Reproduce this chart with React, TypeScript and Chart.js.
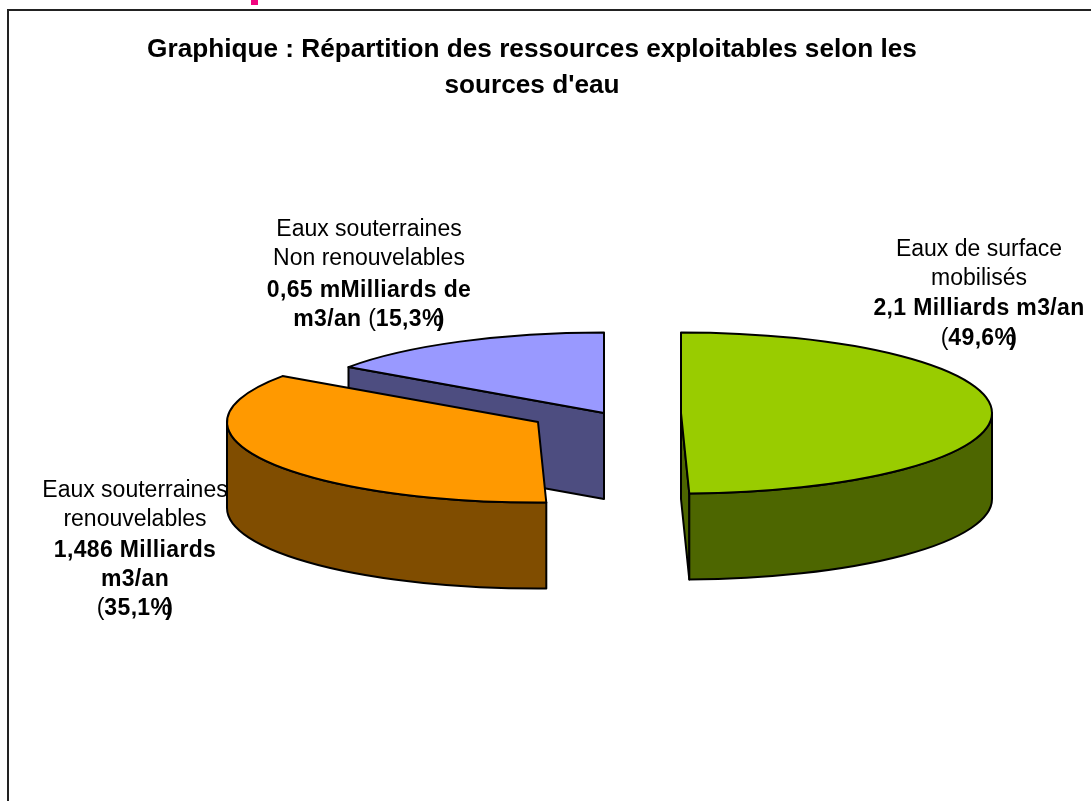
import React, { useEffect, useRef } from "react";
import { Chart, registerables } from "chart.js";

Chart.register(...registerables);

// ---- data ----
const categories = ["Eaux de surface mobilisés", "Eaux souterraines renouvelables", "Eaux souterraines Non renouvelables"];
const values = [2.1, 1.486, 0.65];
const titleLines = ["Graphique : Répartition des ressources exploitables selon les", "sources d'eau"];

type Run = { t: string; b: boolean; k?: number };
const labelSurface: Run[][] = [
  [{ t: "Eaux de surface", b: false }],
  [{ t: "mobilisés", b: false }],
  [{ t: "2,1 Milliards m3/an", b: true }],
  [{ t: "(", b: false }, { t: "49,6%", b: true }, { t: ")", b: true, k: -6 }],
];
const labelRenouv: Run[][] = [
  [{ t: "Eaux souterraines", b: false }],
  [{ t: "renouvelables", b: false }],
  [{ t: "1,486 Milliards", b: true }],
  [{ t: "m3/an", b: true }],
  [{ t: "(", b: false }, { t: "35,1%", b: true }, { t: ")", b: true, k: -6 }],
];
const labelNonRenouv: Run[][] = [
  [{ t: "Eaux souterraines", b: false }],
  [{ t: "Non renouvelables", b: false }],
  [{ t: "0,65 mMilliards de", b: true }],
  [{ t: "m3/an ", b: true }, { t: "(", b: false }, { t: "15,3%", b: true }, { t: ")", b: true, k: -6 }],
];

// ---- style ----
const topColors = ["#99CC00", "#FF9900", "#9999FF"];
const wallColors = ["#4D6600", "#804D00", "#4D4D80"];
const FONT = "'Liberation Sans', Arial, sans-serif";
const LABEL_PX = 23;
const BOLD_SPACING = "0.35px";
const RADIUS = 311;
const TILT = 0.259;
const DEPTH = 86;
const anchor = { x: 604, y: 413 };
const explode = [
  { x: 77, y: 0 },
  { x: -66, y: 9 },
  { x: 0, y: 0 },
];
const paintOrder = [2, 1, 0];
const labelPlace = [
  { x: 979, ys: [256, 285, 315, 345] },
  { x: 135, ys: [497, 526, 557, 586, 615] },
  { x: 369, ys: [236, 265, 297, 326] },
];
const labelRuns = [labelSurface, labelRenouv, labelNonRenouv];

function setRunFont(ctx: any, r: Run) {
  ctx.font = `${r.b ? "bold " : ""}${LABEL_PX}px ${FONT}`;
  ctx.letterSpacing = r.b ? BOLD_SPACING : "0px";
}

function drawLabel(ctx: CanvasRenderingContext2D, lines: Run[][], cx: number, ys: number[]) {
  ctx.textAlign = "left";
  ctx.textBaseline = "alphabetic";
  ctx.fillStyle = "#000";
  lines.forEach((runs, i) => {
    let total = 0;
    const widths = runs.map((r) => {
      setRunFont(ctx, r);
      const w = ctx.measureText(r.t).width + (r.k || 0);
      total += w;
      return w;
    });
    let x = cx - total / 2;
    runs.forEach((r, k) => {
      setRunFont(ctx, r);
      ctx.fillText(r.t, x + (r.k || 0), ys[i]);
      x += widths[k];
    });
  });
}

const pie3d = {
  id: "pie3d",
  beforeDatasetsDraw(chart: any) {
    const ctx: CanvasRenderingContext2D = chart.ctx;
    const arcs = chart.getDatasetMeta(0).data;

    // frame of the picture
    ctx.save();
    ctx.strokeStyle = "#222";
    ctx.lineWidth = 2;
    ctx.beginPath();
    ctx.moveTo(8, chart.height);
    ctx.lineTo(8, 10);
    ctx.lineTo(chart.width, 10);
    ctx.stroke();
    ctx.fillStyle = "#F0047F";
    ctx.fillRect(251, 0, 7, 5);
    ctx.restore();

    for (const i of paintOrder) {
      const arc = arcs[i];
      const { startAngle: a1, endAngle: a2, outerRadius: R } = arc.getProps(["startAngle", "endAngle", "outerRadius"], true);
      const cx = anchor.x + explode[i].x;
      const cy = anchor.y + explode[i].y;
      const ry = R * TILT;
      const px = (a: number) => cx + R * Math.cos(a);
      const py = (a: number) => cy + ry * Math.sin(a);

      ctx.save();
      ctx.lineWidth = 2;
      ctx.lineJoin = "round";
      ctx.strokeStyle = "#000";
      ctx.fillStyle = wallColors[i];

      // radial cut faces that look towards the viewer
      const cut = (a: number) => {
        ctx.beginPath();
        ctx.moveTo(cx, cy);
        ctx.lineTo(px(a), py(a));
        ctx.lineTo(px(a), py(a) + DEPTH);
        ctx.lineTo(cx, cy + DEPTH);
        ctx.closePath();
        ctx.fill();
        ctx.stroke();
      };
      if (-Math.cos(a1) > 0.001) cut(a1);
      if (Math.cos(a2) > 0.001) cut(a2);

      // outer rim, only the front half is visible
      const n1 = ((a1 % (2 * Math.PI)) + 2 * Math.PI) % (2 * Math.PI);
      const span = a2 - a1;
      const from = n1 > Math.PI ? (n1 + span > 2 * Math.PI ? 2 * Math.PI : null) : n1;
      if (from !== null) {
        const to = Math.min(n1 + span, from === 2 * Math.PI ? 3 * Math.PI : Math.PI);
        if (to > from) {
          ctx.beginPath();
          ctx.ellipse(cx, cy, R, ry, 0, from, to);
          ctx.lineTo(px(to), py(to) + DEPTH);
          ctx.ellipse(cx, cy + DEPTH, R, ry, 0, to, from, true);
          ctx.closePath();
          ctx.fill();
          ctx.stroke();
        }
      }

      // top face, filled by the library's arc element
      ctx.save();
      ctx.translate(cx, cy);
      ctx.scale(1, TILT);
      ctx.translate(-arc.x, -arc.y);
      arc.draw(ctx);
      ctx.restore();

      ctx.beginPath();
      ctx.moveTo(cx, cy);
      ctx.lineTo(px(a1), py(a1));
      ctx.ellipse(cx, cy, R, ry, 0, a1, a2);
      ctx.closePath();
      ctx.stroke();
      ctx.restore();
    }

    ctx.save();
    labelRuns.forEach((lines, i) => drawLabel(ctx, lines, labelPlace[i].x, labelPlace[i].ys));
    ctx.restore();
    return false;
  },
};

export default function App() {
  const ref = useRef<HTMLCanvasElement>(null);
  useEffect(() => {
    const chart = new Chart(ref.current!, {
      type: "pie",
      data: {
        labels: categories,
        datasets: [{ data: values, backgroundColor: topColors, borderWidth: 0 }],
      },
      options: {
        animation: false,
        responsive: false,
        radius: RADIUS,
        layout: { padding: { right: 27 } },
        plugins: {
          legend: { display: false },
          tooltip: { enabled: false },
          title: {
            display: true,
            text: titleLines,
            color: "#000",
            font: { family: FONT, size: 26.2, weight: "bold", lineHeight: 1.36 },
            padding: { top: 32, bottom: 0 },
          },
        },
      },
      plugins: [pie3d],
    } as any);
    return () => chart.destroy();
  }, []);
  return (
    <canvas
      ref={ref}
      width={1091}
      height={801}
      style={{ position: "absolute", left: 0, top: 0, display: "block" }}
    />
  );
}
